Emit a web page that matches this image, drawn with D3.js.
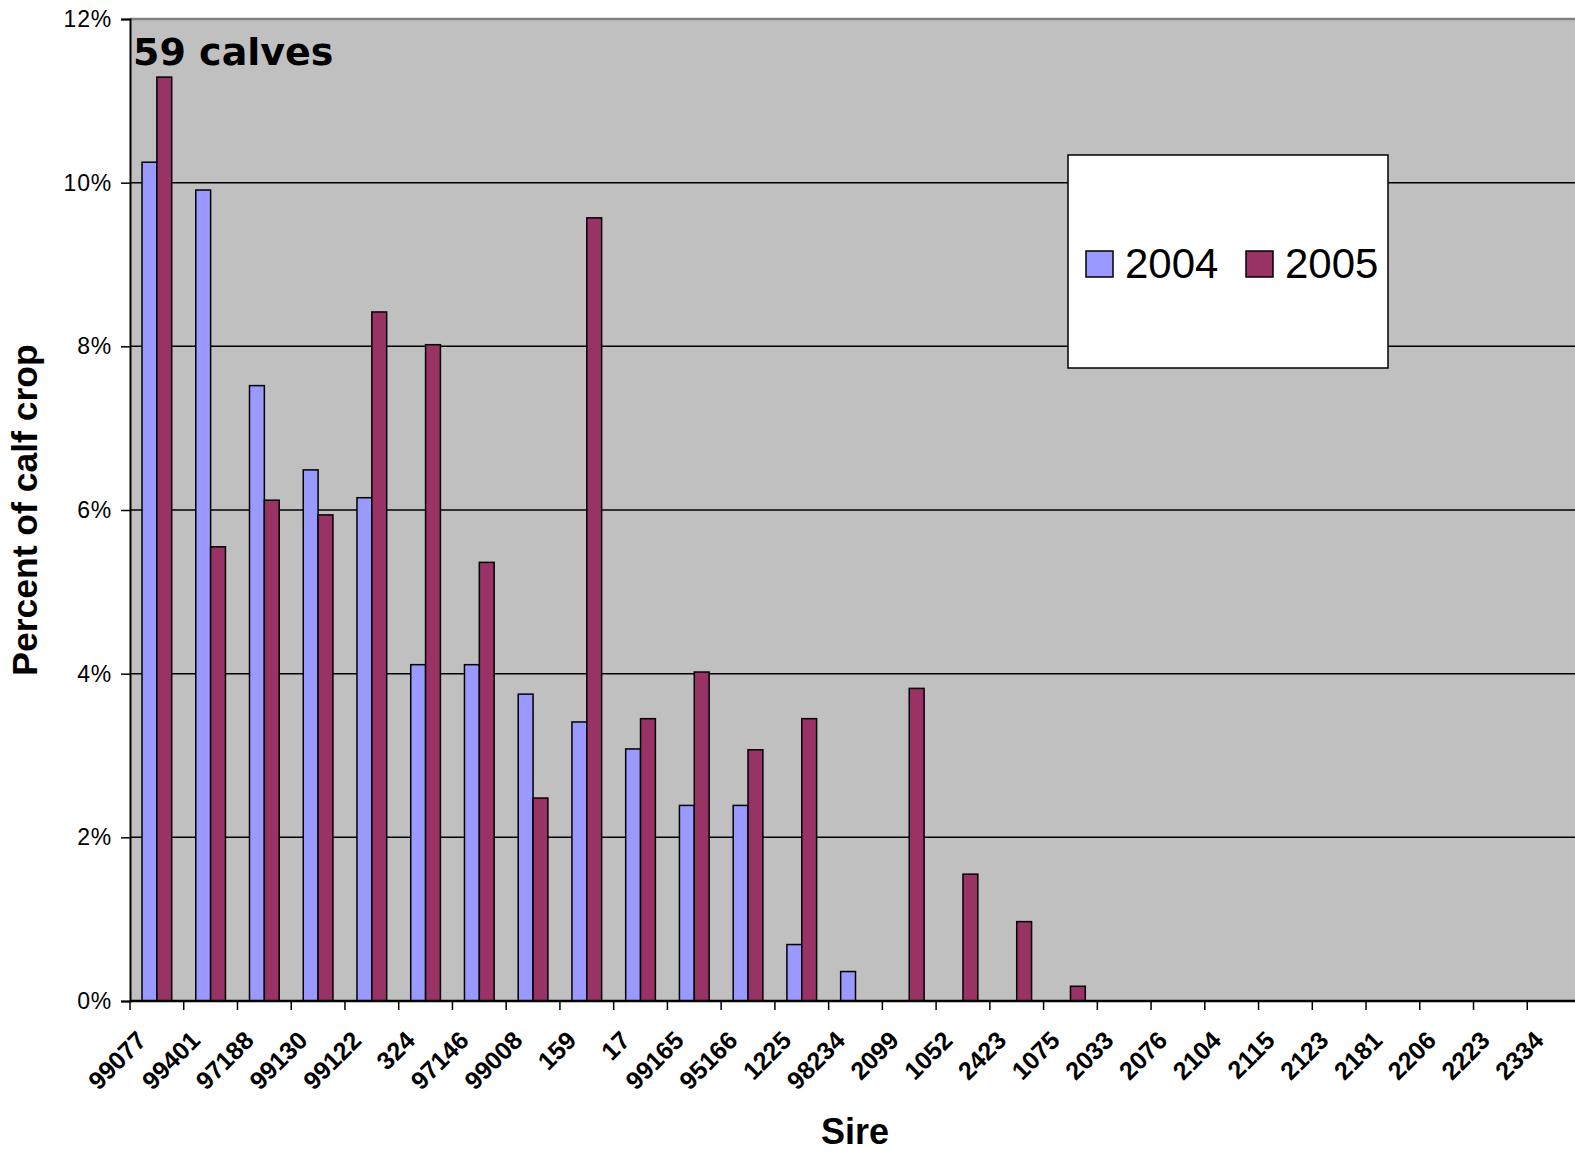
<!DOCTYPE html>
<html>
<head>
<meta charset="utf-8">
<script src="https://cdn.jsdelivr.net/npm/d3@7"></script>
<style>
body { margin: 0; background: #fff; }
svg { display: block; }
</style>
</head>
<body>
<script>
var sires = ["99077","99401","97188","99130","99122","324","97146","99008","159","17","99165","95166","1225","98234","2099","1052","2423","1075","2033","2076","2104","2115","2123","2181","2206","2223","2334"];
var years = ["2004","2005"];
var pct2004 = [10.25,9.91,7.52,6.49,6.15,4.11,4.11,3.75,3.41,3.08,2.39,2.39,0.69,0.36,0,0,0,0,0,0,0,0,0,0,0,0,0];
var pct2005 = [11.29,5.55,6.12,5.94,8.42,8.02,5.36,2.48,9.57,3.45,4.02,3.07,3.45,0,3.82,1.55,0.97,0.18,0,0,0,0,0,0,0,0,0];
var yTicks = [0,2,4,6,8,10,12];
var colors = {"2004":"#9999FF","2005":"#993366"};

var W = 1575, H = 1153;
// note: "top" is taken by window.top, so use plot* names
var plotLeft = 130, plotRight = 1581, plotTop = 19, plotBottom = 1001;

var svg = d3.select("body").append("svg")
	.attr("width", W)
	.attr("height", H);

var xScale = d3.scaleBand()
	.domain(sires)
	.range([plotLeft, plotRight])
	.padding(0);

var xSub = d3.scaleBand()
	.domain(years)
	.range([0, xScale.bandwidth()])
	.paddingInner(0)
	.paddingOuter(0.81);

var yScale = d3.scaleLinear()
	.domain([0, 12])
	.range([plotBottom, plotTop]);

// plot background
svg.append("rect")
	.attr("x", plotLeft)
	.attr("y", plotTop)
	.attr("width", plotRight - plotLeft)
	.attr("height", plotBottom - plotTop)
	.attr("fill", "#C0C0C0");

// grid lines
svg.append("g").selectAll("line")
	.data(yTicks.filter(function(d){ return d > 0 && d < 12; }))
	.enter().append("line")
	.attr("x1", plotLeft)
	.attr("x2", plotRight)
	.attr("y1", function(d){ return yScale(d); })
	.attr("y2", function(d){ return yScale(d); })
	.attr("stroke", "#000")
	.attr("stroke-width", 1.5);

// top border
svg.append("line")
	.attr("x1", plotLeft).attr("x2", plotRight)
	.attr("y1", plotTop).attr("y2", plotTop)
	.attr("stroke", "#808080")
	.attr("stroke-width", 2.5);

// bars
var rows = sires.map(function(s, i){
	return {sire: s, values: [{year:"2004", v: pct2004[i]}, {year:"2005", v: pct2005[i]}]};
});

var groups = svg.append("g").selectAll("g")
	.data(rows)
	.enter().append("g")
	.attr("transform", function(d){ return "translate(" + xScale(d.sire) + ",0)"; });

groups.selectAll("rect")
	.data(function(d){ return d.values.filter(function(e){ return e.v > 0; }); })
	.enter().append("rect")
	.attr("x", function(d){ return xSub(d.year); })
	.attr("y", function(d){ return yScale(d.v); })
	.attr("width", xSub.bandwidth())
	.attr("height", function(d){ return plotBottom - yScale(d.v); })
	.attr("fill", function(d){ return colors[d.year]; })
	.attr("stroke", "#000")
	.attr("stroke-width", 1.5);

// y axis
var yAxis = d3.axisLeft(yScale)
	.tickValues(yTicks)
	.tickSize(9)
	.tickPadding(9)
	.tickFormat(function(d){ return d + "%"; });

var yAxisGroup = svg.append("g")
	.attr("transform", "translate(" + plotLeft + ",0)")
	.call(yAxis);
yAxisGroup.select(".domain").attr("stroke", "#000").attr("stroke-width", 2);
yAxisGroup.selectAll(".tick line").attr("stroke", "#000").attr("stroke-width", 1.5);
yAxisGroup.selectAll("text")
	.attr("font-family", "Liberation Sans, Arial, sans-serif")
	.attr("font-size", 23)
	.attr("letter-spacing", 0.8)
	.attr("fill", "#000");

// x axis - ticks on category boundaries
var xAxisGroup = svg.append("g")
	.attr("transform", "translate(0," + plotBottom + ")");

xAxisGroup.append("line")
	.attr("x1", plotLeft).attr("x2", plotRight)
	.attr("y1", 0).attr("y2", 0)
	.attr("stroke", "#000")
	.attr("stroke-width", 2.5);

xAxisGroup.selectAll(".xtick")
	.data(sires)
	.enter().append("line")
	.attr("class", "xtick")
	.attr("x1", function(d){ return xScale(d); })
	.attr("x2", function(d){ return xScale(d); })
	.attr("y1", 0)
	.attr("y2", 9)
	.attr("stroke", "#000")
	.attr("stroke-width", 1.5);

xAxisGroup.selectAll(".xlabel")
	.data(sires)
	.enter().append("text")
	.attr("class", "xlabel")
	.attr("transform", function(d){
		return "translate(" + (xScale(d) + xScale.bandwidth()/2 - 9) + ",41) rotate(-45)";
	})
	.attr("text-anchor", "end")
	.attr("font-family", "Liberation Sans, Arial, sans-serif")
	.attr("font-weight", "bold")
	.attr("font-size", 25)
	.text(function(d){ return d; });

// axis titles
svg.append("text")
	.attr("x", 855)
	.attr("y", 1144)
	.attr("text-anchor", "middle")
	.attr("font-family", "Liberation Sans, Arial, sans-serif")
	.attr("font-weight", "bold")
	.attr("font-size", 36)
	.text("Sire");

svg.append("text")
	.attr("transform", "translate(37,510) rotate(-90)")
	.attr("text-anchor", "middle")
	.attr("font-family", "Liberation Sans, Arial, sans-serif")
	.attr("font-weight", "bold")
	.attr("font-size", 35.5)
	.text("Percent of calf crop");

svg.append("text")
	.attr("x", 133)
	.attr("y", 65)
	.attr("font-family", "DejaVu Sans, sans-serif")
	.attr("font-weight", "bold")
	.attr("font-size", 38)
	.text("59 calves");

// legend
var legend = svg.append("g").attr("transform", "translate(1068,155)");
legend.append("rect")
	.attr("width", 320)
	.attr("height", 213)
	.attr("fill", "#fff")
	.attr("stroke", "#000")
	.attr("stroke-width", 1.5);

var legItems = legend.selectAll(".leg")
	.data(years)
	.enter().append("g")
	.attr("class", "leg")
	.attr("transform", function(d, i){ return "translate(" + (18 + i*160) + ",96)"; });

legItems.append("rect")
	.attr("width", 27)
	.attr("height", 26)
	.attr("fill", function(d){ return colors[d]; })
	.attr("stroke", "#000")
	.attr("stroke-width", 1.5);

legItems.append("text")
	.attr("x", 39)
	.attr("y", 27)
	.attr("font-family", "Liberation Sans, Arial, sans-serif")
	.attr("font-size", 42)
	.text(function(d){ return d; });
</script>
</body>
</html>
